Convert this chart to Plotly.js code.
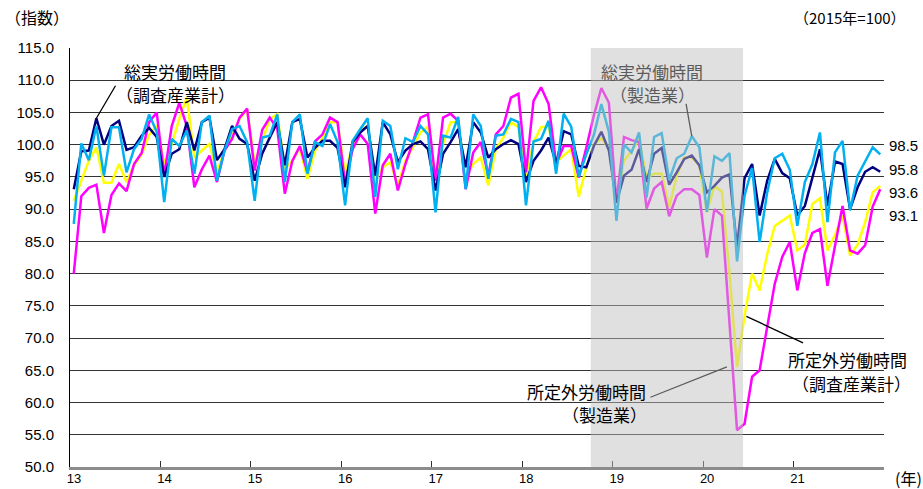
<!DOCTYPE html>
<html><head><meta charset="utf-8">
<script src="https://cdn.plot.ly/plotly-3.0.1.min.js"></script>
<style>html,body{margin:0;padding:0;background:#fff}#chart{width:923px;height:489px}</style>
</head><body><div id="chart"></div>
<script>
// Year labels (2013..2021), monthly data Jan 2013 - Dec 2021, 2015=100
const yearLabels = ['13','14','15','16','17','18','19','20','21'];

// 総実労働時間（調査産業計）
const totalHoursAll = [
  93.1, 99.0, 99.1,104.1,100.0,102.9,103.7, 99.2, 99.6,101.4,102.6,101.2,
  95.0, 98.6, 99.3,103.5, 99.1,103.5,104.2, 97.6, 99.3,102.9,100.9,100.1,
  94.4, 98.6,101.1,103.5, 96.8,103.5,104.0, 98.0, 99.5,100.6,100.6, 99.5,
  93.4,100.4,101.9,102.9, 95.2,103.5,101.6, 97.3, 99.1,100.1,100.5, 99.3,
  92.9, 98.6,100.4,102.4, 96.5,103.5,101.9, 98.0, 99.3,100.1,100.7,100.1,
  94.2, 97.5, 99.1,101.1, 97.0,102.1,101.6, 96.7, 96.5, 99.8,102.0, 99.1,
  91.0, 95.2, 96.1, 99.3, 94.2, 98.6, 99.5, 93.8, 95.7, 97.8, 98.3, 96.8,
  92.6, 93.6, 94.9, 95.4, 84.1, 94.8, 97.0, 89.0, 94.4, 97.8, 95.6, 94.8,
  89.0, 90.5, 94.9, 99.3, 90.5, 97.4, 97.0, 90.0, 93.4, 95.8, 96.5, 95.8
];
// 総実労働時間（製造業）
const totalHoursMfg = [
  87.7,100.2, 97.6,102.9, 95.2,102.7,102.7, 95.7, 99.3,100.9,104.7,102.0,
  91.1,100.9, 99.8,102.2, 95.5,103.5,104.5, 94.4, 99.1,102.4,102.9,100.4,
  91.3,101.1,101.4,104.7, 94.2,103.5,104.7, 95.5,100.4, 99.8,103.2,100.4,
  90.6,100.6,102.4,104.1, 91.9,103.7,102.9, 96.2,101.0,100.4,102.9,101.6,
  89.5,101.4,101.1,104.3, 93.1,104.7,102.9, 94.7,101.4,101.6,104.0,103.5,
  90.6,100.5,100.9,103.7, 95.5,104.8,102.8, 95.0, 98.5,101.5,106.3,102.0,
  88.2,100.0, 98.8,101.9, 91.8,101.2,101.8, 94.5, 97.9, 98.6,101.3, 99.6,
  89.6, 98.2, 97.5, 98.7, 81.9, 92.1, 96.4, 84.9, 92.6, 97.9, 98.6, 96.1,
  87.4, 94.2, 97.0,101.9, 88.0, 98.8,100.6, 89.8, 95.2, 97.3, 99.6, 98.5
];
// 所定外労働時間（調査産業計）
const overtimeAll = [
  91.3, 94.5, 97.5, 99.6, 94.1, 94.1, 97.0, 94.2, 96.8, 98.5,101.5,103.0,
  97.0,100.1,104.0,107.3, 98.0, 99.1,100.1, 95.7, 99.1,101.4,104.0,105.5,
  97.0,100.5,104.0,104.7, 96.3, 97.5, 99.5, 94.7, 99.0,101.0,103.5,103.5,
  95.3,100.1,102.2,102.9, 94.4, 96.5, 97.3, 93.7, 97.5, 99.6,101.9,102.8,
  94.7,100.1,103.5,103.5, 95.0, 97.0, 98.0, 93.7, 99.3,101.1,103.5,102.7,
  95.2,100.4,102.7,102.8, 97.3, 98.3, 99.3, 91.9, 96.5,100.0,101.0, 99.5,
  91.0, 97.5, 99.0,100.8, 94.9, 95.5, 95.5, 90.3, 95.2, 98.0, 98.0, 96.8,
  89.5, 93.6, 92.7, 80.0, 65.5, 73.5, 80.0, 77.4, 83.0, 87.4, 88.2, 89.0,
  83.6, 84.5, 90.8, 91.7, 83.6, 86.0, 89.0, 82.8, 84.5, 88.0, 92.6, 93.6
];
// 所定外労働時間（製造業）
const overtimeMfg = [
  80.0, 92.0, 93.3, 93.8, 86.3, 92.2, 94.0, 92.8, 97.0, 98.7,103.5,105.0,
  95.2,102.9,106.5,102.9, 93.4, 96.2, 98.3, 94.2, 99.1,100.9,104.2,105.6,
  96.0,102.3,104.2,102.5, 92.4, 97.5, 99.8, 95.7,100.5,101.6,104.2,103.5,
  93.9, 99.3,101.6,100.1, 89.3, 96.8, 98.6, 92.9, 97.0,100.4,104.2,104.7,
  94.4,104.2,104.8,103.7, 93.1, 98.8,100.4, 95.2,101.6,102.9,107.3,107.9,
  95.7,106.8,108.9,106.3, 97.0, 99.8, 99.8, 94.9, 99.5,104.5,108.8,106.5,
  91.0,101.2,100.7,100.4, 90.1, 93.2, 94.2, 88.9, 92.1, 93.1, 93.1, 92.2,
  82.5, 90.0, 89.0, 73.0, 55.7, 56.7, 64.0, 65.0, 72.0, 78.4, 82.6, 84.9,
  77.4, 83.2, 86.3, 86.9, 78.1, 84.3, 90.5, 83.6, 83.1, 84.4, 90.4, 93.1
];

// Recession shading (month index, Oct 2018 peak – May 2020 trough)
const shadeStart = 68.6, shadeEnd = 88.8;

const months = totalHoursAll.map((_, i) => i);
const FONT = 'Liberation Sans, Arial, Noto Sans CJK JP, sans-serif';
const JP = 'Noto Sans CJK JP, Liberation Sans, sans-serif';

function line(y, color, name) {
  return {x: months, y: y, type: 'scatter', mode: 'lines', name: name,
          line: {color: color, width: 2.5}, hoverinfo: 'skip'};
}
const traces = [
  line(overtimeAll, '#FFFF00', '所定外労働時間（調査産業計）'),
  line(overtimeMfg, '#FF00FF', '所定外労働時間（製造業）'),
  line(totalHoursAll, '#000080', '総実労働時間（調査産業計）'),
  line(totalHoursMfg, '#00B0F0', '総実労働時間（製造業）')
];

const yTicks = [];
for (let v = 50; v <= 115; v += 5) yTicks.push(v);
const xTickPos = yearLabels.map((_, k) => 12 * k - 0.5).concat([months.length - 0.5]);
const xTickText = yearLabels.concat(['']);

const last = months.length - 1;
const endLabels = [
  {v: totalHoursMfg[last], y: 0.767},
  {v: totalHoursAll[last], y: 0.710},
  {v: overtimeAll[last], y: 0.655},
  {v: overtimeMfg[last], y: 0.600}
];

const annotations = [
  {text: '（指数）', xref: 'paper', yref: 'paper', x: -0.082, y: 1.073, xanchor: 'left', yanchor: 'middle', showarrow: false, font: {family: JP, size: 16, color: '#000'}},
  {text: '（2015年=100）', xref: 'paper', yref: 'paper', x: 1.029, y: 1.073, xanchor: 'right', yanchor: 'middle', showarrow: false, font: {family: JP, size: 15, color: '#000'}},
  {text: '(年)', xref: 'paper', yref: 'paper', x: 1.011, y: -0.027, xanchor: 'left', yanchor: 'middle', showarrow: false, font: {family: JP, size: 16, color: '#000'}},
  // 総実労働時間（調査産業計）
  {text: '総実労働時間', xref: 'paper', yref: 'paper', x: 0.129, y: 0.944, xanchor: 'center', yanchor: 'middle', showarrow: false, font: {family: JP, size: 17, color: '#000'}},
  {text: '（調査産業計）', xref: 'paper', yref: 'paper', x: 0.129, y: 0.889, xanchor: 'center', yanchor: 'middle', showarrow: false, font: {family: JP, size: 17, color: '#000'}},
  {text: '', x: 3, y: totalHoursAll[3], xref: 'x', yref: 'y', showarrow: true, arrowhead: 0, arrowwidth: 1.3, arrowcolor: '#000', ax: 20, ay: -34, standoff: 0},
  // 総実労働時間（製造業）
  {text: '総実労働時間', xref: 'paper', yref: 'paper', x: 0.715, y: 0.944, xanchor: 'center', yanchor: 'middle', showarrow: false, font: {family: JP, size: 17, color: '#5c5c5c'}},
  {text: '（製造業）', xref: 'paper', yref: 'paper', x: 0.715, y: 0.889, xanchor: 'center', yanchor: 'middle', showarrow: false, font: {family: JP, size: 17, color: '#5c5c5c'}},
  {text: '', x: 82, y: totalHoursMfg[82], xref: 'x', yref: 'y', showarrow: true, arrowhead: 0, arrowwidth: 1.3, arrowcolor: '#5c5c5c', ax: -6, ay: -34, standoff: 0},
  // 所定外労働時間（調査産業計）
  {text: '所定外労働時間', xref: 'paper', yref: 'paper', x: 0.955, y: 0.256, xanchor: 'center', yanchor: 'middle', showarrow: false, font: {family: JP, size: 17, color: '#000'}},
  {text: '（調査産業計）', xref: 'paper', yref: 'paper', x: 0.960, y: 0.199, xanchor: 'center', yanchor: 'middle', showarrow: false, font: {family: JP, size: 17, color: '#000'}},
  {text: '', x: 89, y: overtimeAll[89], xref: 'x', yref: 'y', showarrow: true, arrowhead: 0, arrowwidth: 1.3, arrowcolor: '#000', ax: 60, ay: 28, standoff: 2},
  // 所定外労働時間（製造業）
  {text: '所定外労働時間', xref: 'paper', yref: 'paper', x: 0.635, y: 0.179, xanchor: 'center', yanchor: 'middle', showarrow: false, font: {family: JP, size: 17, color: '#000'}},
  {text: '（製造業）', xref: 'paper', yref: 'paper', x: 0.657, y: 0.126, xanchor: 'center', yanchor: 'middle', showarrow: false, font: {family: JP, size: 17, color: '#000'}},
  {text: '', x: 0.807, y: 0.239, xref: 'paper', yref: 'paper', showarrow: true, arrowhead: 0, arrowwidth: 1.3, arrowcolor: '#5c5c5c', ax: -78, ay: 31, standoff: 0}
].concat(endLabels.map(e => ({
  text: e.v.toFixed(1), xref: 'paper', yref: 'paper', x: 1.004, y: e.y, xanchor: 'left', yanchor: 'middle',
  showarrow: false, font: {family: FONT, size: 15, color: '#000'}
})));

const layout = {
  width: 923, height: 489,
  margin: {l: 70, r: 39, t: 48, b: 22, pad: 0},
  paper_bgcolor: '#fff', plot_bgcolor: '#fff',
  showlegend: false,
  font: {family: FONT, size: 14, color: '#000'},
  xaxis: {
    range: [-0.5, months.length - 0.5], tickmode: 'array', tickvals: xTickPos, ticktext: xTickText,
    ticks: 'inside', ticklen: 6, tickwidth: 1, tickcolor: '#333', ticklabelshift: 4, ticklabelstandoff: -3,
    showgrid: false, zeroline: false, showline: true, linecolor: '#8c8c8c', linewidth: 3,
    tickfont: {family: FONT, size: 13, color: '#000'}
  },
  yaxis: {
    range: [50, 115], tickmode: 'array', tickvals: yTicks, ticktext: yTicks.map(v => v.toFixed(1)),
    ticks: '', showgrid: true, gridcolor: '#333', gridwidth: 1, zeroline: false,
    showline: true, linecolor: '#000', linewidth: 1, ticklabelstandoff: 12,
    tickfont: {family: FONT, size: 15, color: '#000'}
  },
  shapes: [
    {type: 'rect', xref: 'x', yref: 'paper', x0: shadeStart, x1: shadeEnd, y0: 0, y1: 1,
     fillcolor: 'rgba(191,191,191,0.48)', line: {width: 0}, layer: 'above'}
  ],
  annotations: annotations
};

Plotly.newPlot('chart', traces, layout, {displayModeBar: false, staticPlot: true});
</script>
</body></html>
